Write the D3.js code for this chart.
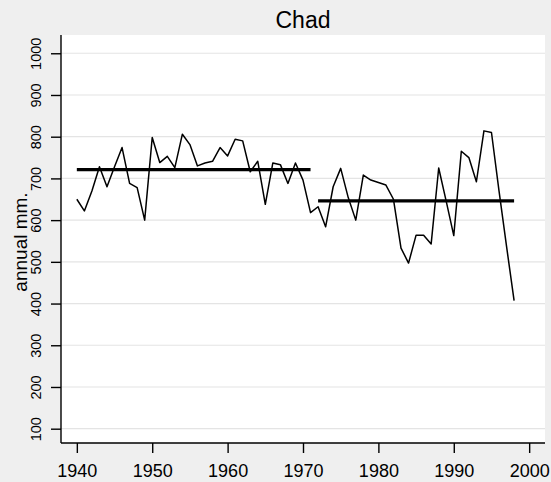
<!DOCTYPE html>
<html>
<head>
<meta charset="utf-8">
<script src="https://cdn.jsdelivr.net/npm/d3@7"></script>
<style>
    body { margin: 0; background: #efefef; }
    svg { display: block; font-family: 'Liberation Sans', Arial, sans-serif; }
</style>
</head>
<body>
<svg id="chart" width="551" height="482"></svg>
<script>
// annual rainfall, Chad
const years = d3.range(1940, 1999);
const rainfall = [
    650, 622, 670, 728, 680, 728, 774, 688, 678, 600,
    798, 738, 753, 726, 806, 781, 730, 737, 741, 774,
    754, 794, 790, 716, 741, 638, 737, 733, 688, 737,
    696, 618, 632, 584, 680, 724, 654, 600, 708, 696,
    690, 684, 650, 533, 497, 564, 564, 543, 725, 645,
    563, 765, 750, 692, 814, 810, 670, 537, 407
];
// period means
const meanStart = [1940, 1972];
const meanEnd = [1971, 1998];
const meanValue = [721, 646];

const yTicks = d3.range(100, 1001, 100);
const xTicks = d3.range(1940, 2001, 10);

const svg = d3.select('#chart');
const plotL = 61, plotR = 545, plotT = 35, plotB = 443;

const x = d3.scaleLinear().domain([1937.9, 2002.1]).range([plotL, plotR]);
const y = d3.scaleLinear().domain([65.7, 1043.8]).range([plotB, plotT]);

svg.append('rect')
    .attr('x', plotL).attr('y', plotT)
    .attr('width', plotR - plotL).attr('height', plotB - plotT)
    .attr('fill', '#fff');

// grid
svg.append('g')
    .selectAll('line')
    .data(yTicks)
    .enter()
    .append('line')
    .attr('x1', plotL).attr('x2', plotR)
    .attr('y1', d => y(d)).attr('y2', d => y(d))
    .style('stroke', '#e4e4e4')
    .style('stroke-width', 1.2);

// axes
const yAxis = svg.append('g')
    .attr('transform', `translate(${plotL},0)`)
    .call(d3.axisLeft(y).tickValues(yTicks).tickFormat(d3.format('d')).tickSize(10).tickSizeOuter(0));
yAxis.select('.domain').attr('d', `M0,${plotT}V${plotB}`);
yAxis.selectAll('.tick text')
    .attr('transform', 'translate(-25,0) rotate(-90)')
    .attr('x', 0).attr('y', 0).attr('dy', '0.35em')
    .style('text-anchor', 'middle')
    .style('font-size', '14.5px');

const xAxis = svg.append('g')
    .attr('transform', `translate(0,${plotB})`)
    .call(d3.axisBottom(x).tickValues(xTicks).tickFormat(d3.format('d')).tickSize(10).tickPadding(11).tickSizeOuter(0));
xAxis.select('.domain').attr('d', `M${plotL},0H${plotR}`);
xAxis.selectAll('text').style('font-size', '18px');

svg.selectAll('.domain, .tick line').style('stroke', '#000').style('stroke-width', 1.4);
svg.selectAll('.tick text').style('fill', '#000');

// titles
svg.append('text')
    .attr('x', (plotL + plotR) / 2).attr('y', 28)
    .attr('text-anchor', 'middle')
    .style('font-size', '23px')
    .text('Chad');

svg.append('text')
    .attr('transform', `translate(27,242) rotate(-90)`)
    .attr('text-anchor', 'middle')
    .style('font-size', '19px')
    .text('annual mm.');

// rainfall line
const line = d3.line()
    .x((d, i) => x(years[i]))
    .y(d => y(d));
svg.append('path')
    .datum(rainfall)
    .attr('d', line)
    .attr('fill', 'none')
    .style('stroke', '#000')
    .style('stroke-width', 1.5)
    .style('stroke-linejoin', 'round');

// mean lines
svg.append('g')
    .selectAll('line')
    .data(meanValue)
    .enter()
    .append('line')
    .attr('x1', (d, i) => x(meanStart[i]))
    .attr('x2', (d, i) => x(meanEnd[i]))
    .attr('y1', d => y(d)).attr('y2', d => y(d))
    .style('stroke', '#000')
    .style('stroke-width', 3.2);
</script>
</body>
</html>
